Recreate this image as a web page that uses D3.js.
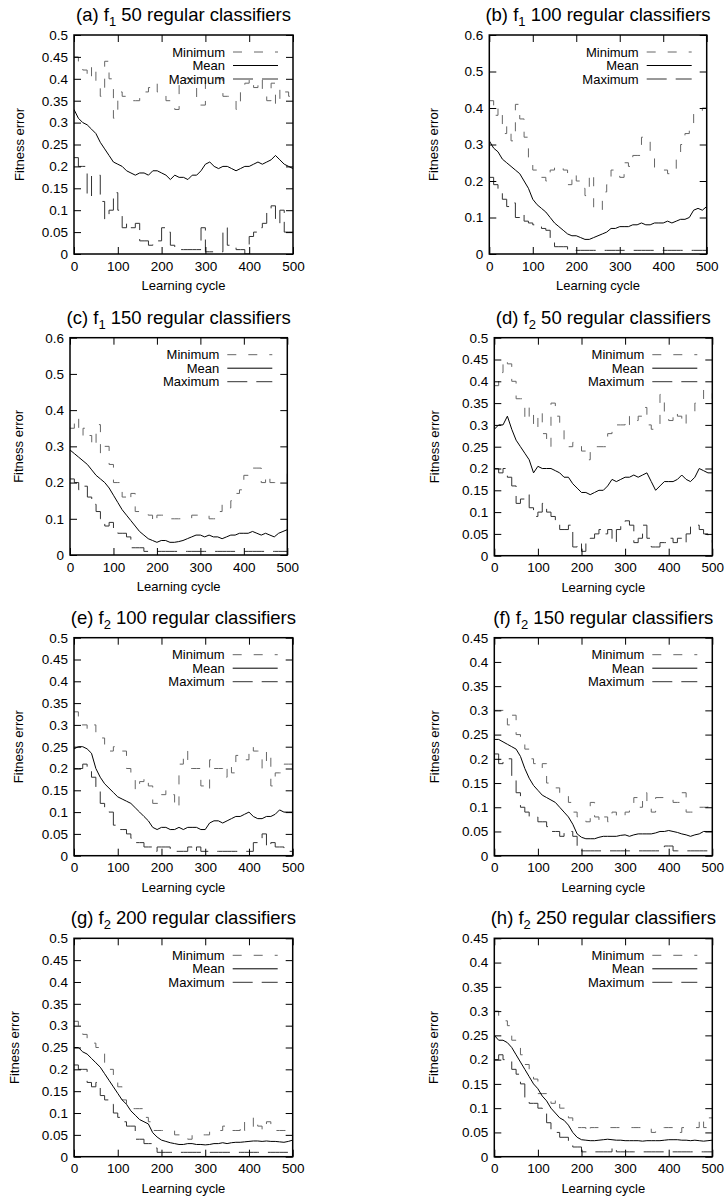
<!DOCTYPE html>
<html><head><meta charset="utf-8">
<script src="https://cdn.jsdelivr.net/npm/d3@7"></script>
<style>
body{margin:0;background:#fff}
svg{display:block}
text{font-family:"Liberation Sans",Arial,Helvetica,sans-serif;fill:#000}
</style>
</head><body>
<svg id="chart" width="726" height="1199"></svg>
<script>
// ---------- data ----------
const cycles = [0,10,20,30,40,50,60,70,80,90,100,110,120,130,140,150,160,170,180,190,200,210,220,230,240,250,260,270,280,290,300,310,320,330,340,350,360,370,380,390,400,410,420,430,440,450,460,470,480,490,500];
const xTickValues = [0,100,200,300,400,500];
const yTicks05 = [0,0.05,0.1,0.15,0.2,0.25,0.3,0.35,0.4,0.45,0.5];
const yTicks06 = [0,0.1,0.2,0.3,0.4,0.5,0.6];
const yTicks045 = [0,0.05,0.1,0.15,0.2,0.25,0.3,0.35,0.4,0.45];
const seriesNames = ["Minimum","Mean","Maximum"];

const panelLetters = ["a","b","c","d","e","f","g","h"];
const panelFunctions = ["1","1","1","2","2","2","2","2"];
const panelClassifiers = [50,100,150,50,100,150,200,250];
const panelYMax = [0.5,0.6,0.6,0.5,0.5,0.45,0.5,0.45];

// (a) f1 50
const aMinimum = [0.45,0.44,0.42,0.40,0.43,0.38,0.36,0.44,0.40,0.31, 0.37,0.36,0.35,0.35,0.35,0.36,0.37,0.38,0.39,0.37, 0.37,0.35,0.34,0.33,0.40,0.40,0.40,0.40,0.34,0.34, 0.40,0.40,0.40,0.40,0.36,0.36,0.36,0.33,0.37,0.39, 0.40,0.38,0.40,0.37,0.35,0.39,0.34,0.38,0.37,0.36, 0.36];
const aMean = [0.33,0.31,0.30,0.295,0.285,0.275,0.255,0.24,0.225,0.21, 0.205,0.20,0.19,0.185,0.18,0.185,0.185,0.18,0.19,0.19, 0.185,0.18,0.17,0.18,0.175,0.175,0.17,0.18,0.18,0.19, 0.205,0.21,0.20,0.195,0.20,0.20,0.195,0.19,0.195,0.20, 0.20,0.205,0.21,0.205,0.21,0.215,0.225,0.215,0.205,0.20, 0.195];
const aMaximum = [0.22,0.20,0.20,0.13,0.18,0.18,0.12,0.08,0.10,0.14, 0.10,0.06,0.07,0.06,0.07,0.03,0.03,0.02,0.03,0.03, 0.06,0.05,0.02,0.01,0.01,0.01,0.01,0.01,0.01,0.06, 0.005,0.005,0.005,0.005,0.06,0.02,0.02,0.01,0.01,0.00, 0.04,0.05,0.06,0.07,0.10,0.11,0.07,0.10,0.05,0.05, 0.05];

// (b) f1 100
const bMinimum = [0.42,0.38,0.40,0.33,0.35,0.31,0.41,0.37,0.32,0.26, 0.23,0.21,0.21,0.20,0.23,0.24,0.24,0.23,0.19,0.22, 0.20,0.18,0.16,0.22,0.12,0.12,0.17,0.19,0.23,0.23, 0.21,0.25,0.24,0.27,0.27,0.32,0.32,0.28,0.23,0.23, 0.23,0.22,0.22,0.26,0.30,0.33,0.34,0.39,0.39,0.40, 0.36];
const bMean = [0.31,0.29,0.28,0.26,0.25,0.24,0.23,0.22,0.20,0.18, 0.15,0.135,0.125,0.115,0.10,0.085,0.075,0.065,0.055,0.05, 0.05,0.045,0.04,0.04,0.045,0.05,0.055,0.06,0.07,0.07, 0.075,0.075,0.075,0.08,0.08,0.085,0.08,0.08,0.085,0.085, 0.085,0.09,0.085,0.09,0.095,0.095,0.10,0.12,0.125,0.12, 0.13];
const bMaximum = [0.21,0.19,0.17,0.15,0.13,0.14,0.10,0.11,0.09,0.085, 0.08,0.075,0.07,0.065,0.04,0.02,0.02,0.02,0.01,0.01, 0.01,0.01,0.01,0.01,0.01,0.01,0.01,0.01,0.01,0.01, 0.01,0.01,0.01,0.01,0.01,0.01,0.01,0.01,0.01,0.01, 0.01,0.01,0.01,0.01,0.01,0.01,0.01,0.01,0.01,0.01, 0.01];

// (c) f1 150
const cMinimum = [0.35,0.38,0.33,0.35,0.33,0.30,0.36,0.28,0.30,0.25, 0.20,0.20,0.16,0.15,0.17,0.12,0.12,0.12,0.11,0.09, 0.11,0.11,0.11,0.10,0.10,0.10,0.10,0.10,0.11,0.11, 0.11,0.11,0.10,0.10,0.12,0.14,0.13,0.15,0.17,0.18, 0.22,0.24,0.24,0.24,0.20,0.22,0.20,0.20,0.20,0.20, 0.24];
const cMean = [0.29,0.28,0.27,0.26,0.25,0.235,0.22,0.21,0.20,0.185, 0.165,0.145,0.125,0.11,0.095,0.08,0.065,0.055,0.045,0.04, 0.035,0.04,0.04,0.035,0.035,0.037,0.04,0.045,0.05,0.055, 0.055,0.05,0.055,0.05,0.05,0.045,0.05,0.055,0.055,0.06, 0.06,0.06,0.065,0.06,0.055,0.06,0.055,0.05,0.06,0.065, 0.07];
const cMaximum = [0.21,0.20,0.18,0.19,0.16,0.14,0.12,0.10,0.08,0.09, 0.07,0.06,0.06,0.05,0.02,0.02,0.02,0.01,0.01,0.01, 0.01,0.01,0.01,0.01,0.01,0.01,0.01,0.01,0.01,0.01, 0.01,0.01,0.01,0.01,0.01,0.01,0.01,0.01,0.01,0.01, 0.01,0.01,0.01,0.01,0.01,0.01,0.01,0.01,0.01,0.01, 0.01];

// (d) f2 50
const dMinimum = [0.39,0.42,0.45,0.44,0.40,0.36,0.36,0.31,0.34,0.29, 0.33,0.28,0.25,0.35,0.32,0.29,0.25,0.25,0.26,0.26, 0.24,0.22,0.25,0.25,0.25,0.25,0.28,0.29,0.30,0.30, 0.32,0.30,0.31,0.32,0.34,0.30,0.29,0.30,0.37,0.33, 0.31,0.33,0.32,0.30,0.33,0.33,0.35,0.35,0.38,0.38, 0.36];
const dMean = [0.29,0.30,0.30,0.32,0.29,0.265,0.25,0.235,0.22,0.19, 0.205,0.20,0.20,0.20,0.195,0.19,0.18,0.18,0.165,0.155, 0.145,0.145,0.14,0.145,0.15,0.15,0.16,0.175,0.17,0.175, 0.18,0.18,0.185,0.18,0.185,0.19,0.17,0.15,0.16,0.17, 0.17,0.17,0.175,0.185,0.175,0.17,0.18,0.20,0.195,0.19, 0.19];
const dMaximum = [0.20,0.19,0.20,0.18,0.16,0.12,0.13,0.14,0.11,0.09, 0.10,0.12,0.10,0.09,0.08,0.06,0.06,0.07,0.02,0.03, 0.01,0.03,0.04,0.05,0.06,0.05,0.06,0.03,0.06,0.07, 0.08,0.07,0.03,0.04,0.07,0.04,0.02,0.02,0.03,0.03, 0.04,0.03,0.04,0.03,0.05,0.07,0.07,0.06,0.05,0.04, 0.03];

// (e) f2 100
const eMinimum = [0.33,0.30,0.30,0.29,0.30,0.28,0.27,0.25,0.24,0.25, 0.25,0.24,0.20,0.18,0.15,0.17,0.18,0.16,0.12,0.12, 0.14,0.15,0.14,0.11,0.21,0.24,0.20,0.20,0.20,0.16, 0.15,0.22,0.20,0.20,0.18,0.21,0.19,0.23,0.22,0.22, 0.25,0.24,0.24,0.20,0.24,0.16,0.19,0.19,0.21,0.21, 0.20];
const eMean = [0.245,0.25,0.25,0.245,0.235,0.20,0.18,0.165,0.155,0.145, 0.135,0.13,0.125,0.12,0.11,0.10,0.09,0.08,0.065,0.06, 0.065,0.065,0.06,0.06,0.065,0.06,0.065,0.065,0.065,0.06, 0.06,0.075,0.08,0.08,0.075,0.08,0.085,0.09,0.09,0.095, 0.10,0.09,0.085,0.085,0.09,0.09,0.095,0.105,0.10,0.10, 0.10];
const eMaximum = [0.20,0.20,0.21,0.20,0.18,0.15,0.12,0.11,0.10,0.07, 0.06,0.06,0.05,0.04,0.03,0.03,0.02,0.02,0.01,0.02, 0.02,0.02,0.01,0.01,0.01,0.01,0.02,0.01,0.02,0.01, 0.01,0.01,0.01,0.01,0.01,0.01,0.01,0.01,0.01,0.01, 0.01,0.03,0.04,0.05,0.02,0.03,0.02,0.02,0.01,0.01, 0.01];

// (f) f2 150
const fMinimum = [0.30,0.30,0.30,0.27,0.29,0.25,0.24,0.22,0.20,0.19, 0.18,0.19,0.15,0.15,0.14,0.13,0.13,0.11,0.09,0.08, 0.08,0.07,0.11,0.08,0.07,0.08,0.07,0.09,0.08,0.08, 0.09,0.10,0.12,0.10,0.13,0.11,0.09,0.12,0.12,0.12, 0.12,0.11,0.11,0.13,0.09,0.09,0.09,0.10,0.10,0.11, 0.11];
const fMean = [0.24,0.24,0.235,0.23,0.225,0.22,0.205,0.18,0.16,0.145, 0.135,0.125,0.12,0.115,0.11,0.10,0.09,0.08,0.065,0.045, 0.038,0.035,0.035,0.035,0.038,0.04,0.04,0.04,0.04,0.042, 0.043,0.04,0.043,0.045,0.045,0.045,0.045,0.047,0.05,0.05, 0.052,0.05,0.048,0.045,0.043,0.04,0.043,0.045,0.05,0.05, 0.05];
const fMaximum = [0.21,0.19,0.20,0.20,0.16,0.13,0.10,0.09,0.08,0.08, 0.07,0.07,0.06,0.05,0.05,0.04,0.05,0.05,0.04,0.02, 0.01,0.01,0.01,0.01,0.01,0.01,0.01,0.01,0.01,0.01, 0.01,0.01,0.01,0.01,0.01,0.01,0.01,0.01,0.01,0.02, 0.02,0.01,0.01,0.01,0.01,0.01,0.01,0.01,0.01,0.01, 0.01];

// (g) f2 200
const gMinimum = [0.31,0.30,0.28,0.27,0.26,0.25,0.24,0.20,0.20,0.17, 0.16,0.13,0.12,0.11,0.11,0.11,0.09,0.08,0.06,0.06, 0.06,0.06,0.06,0.05,0.05,0.05,0.04,0.05,0.05,0.05, 0.05,0.06,0.06,0.06,0.07,0.06,0.06,0.06,0.08,0.06, 0.06,0.09,0.07,0.06,0.08,0.07,0.06,0.06,0.06,0.06, 0.08];
const gMean = [0.25,0.25,0.24,0.235,0.225,0.215,0.205,0.19,0.175,0.16, 0.145,0.13,0.12,0.105,0.095,0.085,0.08,0.075,0.055,0.045, 0.038,0.035,0.032,0.03,0.028,0.028,0.03,0.03,0.028,0.028, 0.027,0.028,0.03,0.03,0.032,0.03,0.032,0.033,0.033,0.034, 0.035,0.036,0.036,0.035,0.036,0.035,0.035,0.034,0.033,0.035, 0.038];
const gMaximum = [0.21,0.20,0.20,0.17,0.16,0.17,0.14,0.13,0.12,0.10, 0.09,0.08,0.07,0.07,0.04,0.04,0.03,0.03,0.02,0.01, 0.01,0.01,0.01,0.01,0.01,0.01,0.01,0.01,0.01,0.01, 0.01,0.01,0.01,0.01,0.01,0.01,0.01,0.01,0.01,0.01, 0.01,0.01,0.01,0.01,0.01,0.01,0.01,0.01,0.01,0.01, 0.01];

// (h) f2 250
const hMinimum = [0.30,0.29,0.28,0.27,0.24,0.23,0.21,0.19,0.18,0.16, 0.13,0.13,0.12,0.11,0.12,0.10,0.10,0.08,0.06,0.06, 0.06,0.05,0.06,0.06,0.06,0.06,0.06,0.06,0.06,0.06, 0.06,0.06,0.06,0.06,0.06,0.06,0.05,0.06,0.06,0.06, 0.06,0.06,0.05,0.06,0.06,0.06,0.06,0.08,0.06,0.08, 0.08];
const hMean = [0.25,0.24,0.24,0.235,0.225,0.21,0.195,0.18,0.165,0.15, 0.14,0.125,0.115,0.10,0.09,0.08,0.075,0.065,0.05,0.04, 0.035,0.034,0.033,0.033,0.034,0.035,0.036,0.035,0.034,0.034, 0.033,0.033,0.033,0.033,0.032,0.033,0.033,0.033,0.033,0.034, 0.035,0.035,0.035,0.034,0.034,0.033,0.034,0.033,0.032,0.033, 0.034];
const hMaximum = [0.20,0.21,0.20,0.20,0.18,0.17,0.15,0.12,0.11,0.11, 0.10,0.09,0.07,0.05,0.05,0.04,0.04,0.03,0.02,0.02, 0.01,0.01,0.01,0.01,0.01,0.01,0.01,0.02,0.01,0.01, 0.01,0.01,0.01,0.01,0.01,0.01,0.01,0.01,0.01,0.01, 0.01,0.01,0.01,0.01,0.01,0.01,0.01,0.01,0.01,0.01, 0.01];

const panelSeries = [
  [aMinimum,aMean,aMaximum],[bMinimum,bMean,bMaximum],
  [cMinimum,cMean,cMaximum],[dMinimum,dMean,dMaximum],
  [eMinimum,eMean,eMaximum],[fMinimum,fMean,fMaximum],
  [gMinimum,gMean,gMaximum],[hMinimum,hMean,hMaximum]
];
const panelYTicks = [yTicks05,yTicks06,yTicks06,yTicks05,yTicks05,yTicks045,yTicks05,yTicks045];

// ---------- layout & style ----------
const layout = [
  {x0:74,  x1:293, y0:35,    y1:254,    ylabX:23.5},
  {x0:489.3,x1:706.7,y0:35,  y1:254,    ylabX:438.3},
  {x0:70,  x1:287.3,y0:337.7,y1:555,    ylabX:23.3},
  {x0:494.3,x1:712.3,y0:337.7,y1:555.7, ylabX:439.3},
  {x0:74,  x1:292.7,y0:637.7,y1:855.7,  ylabX:22.7},
  {x0:494.3,x1:712.3,y0:637.7,y1:855.7, ylabX:439.3},
  {x0:74,  x1:292.7,y0:938.3,y1:1156.7, ylabX:18.5},
  {x0:494.3,x1:712.3,y0:938.3,y1:1156.7,ylabX:438.3}
];
const styles = [
  {stroke:"#666", dash:"9,12", curve:d3.curveStepAfter},
  {stroke:"#000", dash:null,   curve:d3.curveLinear},
  {stroke:"#333", dash:"20,9", curve:d3.curveStepAfter}
];
const tickLen = 7;

const svg = d3.select("#chart");

panelLetters.forEach((letter, i) => {
  const L = layout[i];
  const x = d3.scaleLinear().domain([0,500]).range([L.x0, L.x1]);
  const y = d3.scaleLinear().domain([0, panelYMax[i]]).range([L.y1, L.y0]);
  const g = svg.append("g");

  const clipId = "clip" + letter;
  g.append("clipPath").attr("id", clipId).append("rect")
    .attr("x", L.x0).attr("y", L.y0).attr("width", L.x1 - L.x0).attr("height", L.y1 - L.y0);

  // series
  const lines = g.append("g").attr("clip-path", `url(#${clipId})`);
  panelSeries[i].forEach((vals, s) => {
    const st = styles[s];
    const line = d3.line().x((d, j) => x(cycles[j])).y(d => y(d)).curve(st.curve);
    lines.append("path").datum(vals)
      .attr("d", line)
      .attr("fill", "none")
      .attr("stroke", st.stroke)
      .attr("stroke-width", 1)
      .attr("stroke-dasharray", st.dash);
  });

  // axes (inward ticks, mirrored)
  const fmt = d3.format("~g");
  const left = g.append("g").attr("transform", `translate(${L.x0},0)`)
    .call(d3.axisLeft(y).tickValues(panelYTicks[i]).tickSize(-tickLen).tickPadding(6).tickFormat(fmt));
  const right = g.append("g").attr("transform", `translate(${L.x1},0)`)
    .call(d3.axisRight(y).tickValues(panelYTicks[i]).tickSize(-tickLen).tickFormat(""));
  const bottom = g.append("g").attr("transform", `translate(0,${L.y1})`)
    .call(d3.axisBottom(x).tickValues(xTickValues).tickSize(-tickLen).tickPadding(7).tickFormat(fmt));
  const top = g.append("g").attr("transform", `translate(0,${L.y0})`)
    .call(d3.axisTop(x).tickValues(xTickValues).tickSize(-tickLen).tickFormat(""));
  [left, right, bottom, top].forEach(a => {
    a.select(".domain").remove();
    a.selectAll(".tick line").attr("stroke", "#000").attr("stroke-width", 1);
    a.selectAll("text").attr("font-size", 13.5).attr("font-family", '"Liberation Sans",Arial,sans-serif').attr("fill", "#000");
  });

  // border
  g.append("rect")
    .attr("x", L.x0).attr("y", L.y0).attr("width", L.x1 - L.x0).attr("height", L.y1 - L.y0)
    .attr("fill", "none").attr("stroke", "#000").attr("stroke-width", 1.5);

  // title
  const cx = (L.x0 + L.x1) / 2;
  const title = g.append("text").attr("x", cx).attr("y", L.y0 - 14)
    .attr("text-anchor", "middle").attr("font-size", 18.5);
  title.append("tspan").text(`(${letter}) f`);
  title.append("tspan").attr("font-size", 13).attr("dy", 5).text(panelFunctions[i]);
  title.append("tspan").attr("dy", -5).text(` ${panelClassifiers[i]} regular classifiers`);

  // axis labels
  g.append("text").attr("x", cx).attr("y", L.y1 + 36)
    .attr("text-anchor", "middle").attr("font-size", 13).text("Learning cycle");
  g.append("text")
    .attr("transform", `translate(${L.ylabX},${(L.y0 + L.y1) / 2}) rotate(-90)`)
    .attr("text-anchor", "middle").attr("font-size", 13).text("Fitness error");

  // legend
  seriesNames.forEach((name, s) => {
    const ly = L.y0 + 17 + s * 13.5;
    g.append("text").attr("x", L.x1 - 68).attr("y", ly).attr("dy", "0.35em")
      .attr("text-anchor", "end").attr("font-size", 13).text(name);
    g.append("line")
      .attr("x1", L.x1 - 60).attr("x2", L.x1 - 15).attr("y1", ly).attr("y2", ly)
      .attr("stroke", styles[s].stroke).attr("stroke-width", 1)
      .attr("stroke-dasharray", styles[s].dash);
  });
});
</script>
</body></html>
